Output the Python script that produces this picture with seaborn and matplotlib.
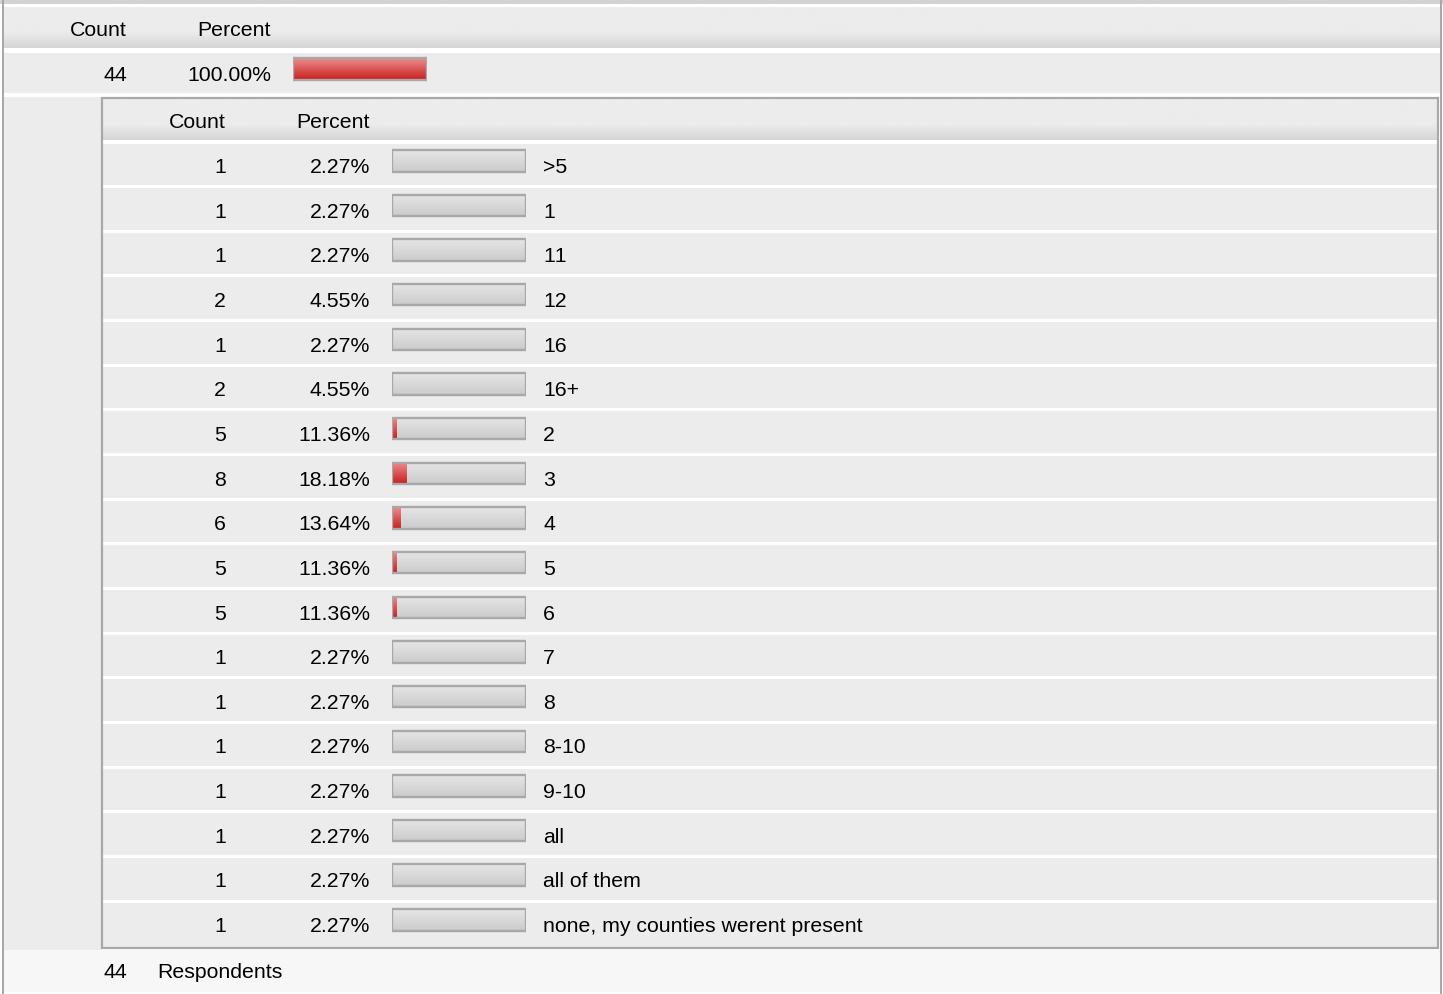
import numpy as np
import pandas as pd
import matplotlib
matplotlib.use("Agg")
import matplotlib.pyplot as plt
from matplotlib.patches import Rectangle
from matplotlib.colors import LinearSegmentedColormap
import seaborn as sns

# values
total_count = 44
total_percent = "100.00%"
total_fill = [1.0]

answers = [">5", "1", "11", "12", "16", "16+", "2", "3", "4", "5", "6", "7", "8",
           "8-10", "9-10", "all", "all of them", "none, my counties werent present"]
counts = [1, 1, 1, 2, 1, 2, 5, 8, 6, 5, 5, 1, 1, 1, 1, 1, 1, 1]
percents = [2.27, 2.27, 2.27, 4.55, 2.27, 4.55, 11.36, 18.18, 13.64, 11.36, 11.36,
            2.27, 2.27, 2.27, 2.27, 2.27, 2.27, 2.27]
# red part of each small bar, share of the bar as it is drawn in the picture
bar_fill = [0, 0, 0, 0, 0, 0, 0.037, 0.11, 0.06, 0.037, 0.037, 0, 0, 0, 0, 0, 0, 0]
respondents = 44

sns.set_style("white")
plt.rcParams["font.family"] = ["Liberation Sans", "DejaVu Sans"]
# no pair kerning, digits keep their even width as in the picture
plt.rcParams["text.kerning_factor"] = 12

W, H = 1443, 994
FS = 15.3
PITCH = 44.65
ROW0_TEXT = 165.6
ROW0_BAR = 160.8
EDGE = "#a8a8a8"

df = pd.DataFrame({"answer": answers, "count": counts, "percent": percents, "fill": bar_fill})
df["full"] = 1.0
top = pd.DataFrame({"answer": ["all"], "fill": total_fill, "full": [1.0]})

fig = plt.figure(figsize=(W / 100, H / 100), dpi=100)
ax = fig.add_axes([0, 0, 1, 1])
ax.set_xlim(0, W)
ax.set_ylim(H, 0)
ax.axis("off")

GRAD = np.linspace(0, 1, 64).reshape(-1, 1)


def band(x0, y0, x1, y1, stops):
    cmap = LinearSegmentedColormap.from_list("band", stops)
    ax.imshow(GRAD, cmap=cmap, aspect="auto", extent=[x0, x1, y1, y0],
              origin="upper", interpolation="bilinear", zorder=1)


def flat(x0, y0, x1, y1, color):
    ax.add_patch(Rectangle((x0, y0), x1 - x0, y1 - y0, facecolor=color, lw=0, zorder=1))


def put(x, yc, s, ha="right"):
    ax.text(x, yc + 7.4, s, ha=ha, va="baseline", fontsize=FS, color="#000000", zorder=5)


header_stops = [(0, "#ececec"), (0.6, "#ececec"), (1, "#d6d6d6")]

# background blocks
flat(0, 0, W, 4, "#d2d2d2")
band(4, 8, 1439.5, 48.3, header_stops)
flat(4, 52.7, 1439.5, 93.3, "#ececec")
flat(4, 97, 102, 950, "#ececec")
band(103, 99, 1436.5, 140, header_stops)
n = len(answers)
for i in range(n):
    y0 = 143.5 + i * PITCH
    y1 = y0 + PITCH - 3 if i < n - 1 else 947
    flat(103, y0, 1436.5, y1, "#ececec")
flat(4, 950, 1439.5, 992, "#f7f7f7")

# borders
ax.add_patch(Rectangle((1.5, 0), 2, H, facecolor=EDGE, lw=0, zorder=3))
ax.add_patch(Rectangle((1439.5, 0), 2.5, H, facecolor=EDGE, lw=0, zorder=3))
ax.add_patch(Rectangle((102, 98), 1335.5, 850, fill=False, edgecolor=EDGE, lw=1.6, zorder=3))

# texts
put(127, 29, "Count")
put(271, 29, "Percent")
put(127, 74, str(total_count))
put(271, 74, total_percent)
put(226, 120.7, "Count")
put(370, 120.7, "Percent")
for i, row in df.iterrows():
    yc = ROW0_TEXT + i * PITCH
    put(226, yc, str(row["count"]))
    put(370, yc, f"{row['percent']:.2f}%")
    put(543, yc, row["answer"], ha="left")
put(127, 971, str(respondents))
put(157, 971, "Respondents", ha="left")


def shade(bx, patches, c_top, c_bot):
    cmap = LinearSegmentedColormap.from_list("bar", [c_top, c_bot])
    for p in patches:
        w = p.get_width()
        if w <= 0:
            continue
        x0, y0, h = p.get_x(), p.get_y(), p.get_height()
        im = bx.imshow(GRAD, cmap=cmap, aspect="auto", extent=[x0, x0 + w, y0 + h, y0],
                       origin="upper", interpolation="bilinear", zorder=p.get_zorder() + 0.1)
        im.set_clip_path(p)


def bar_column(data, x_left, x_right, center0):
    nrow = len(data)
    y_top = center0 - PITCH / 2
    bx = fig.add_axes([x_left / W, 1 - (y_top + nrow * PITCH) / H,
                       (x_right - x_left) / W, nrow * PITCH / H])
    bx.set_facecolor("none")
    sns.barplot(data=data, x="full", y="answer", orient="h", color="#d6d6d6",
                width=0.48, linewidth=0, errorbar=None, ax=bx)
    shade(bx, list(bx.patches), "#e6e6e6", "#cbcbcb")
    k = len(bx.patches)
    sns.barplot(data=data, x="fill", y="answer", orient="h", color="#d43a3a",
                width=0.48, linewidth=0, errorbar=None, ax=bx)
    shade(bx, list(bx.patches)[k:], "#eb8c8c", "#c91f1f")
    k = len(bx.patches)
    sns.barplot(data=data, x="full", y="answer", orient="h", color="#aaaaaa",
                width=0.48, errorbar=None, ax=bx)
    for p in list(bx.patches)[k:]:
        p.set_facecolor("none")
        p.set_edgecolor(EDGE)
        p.set_linewidth(1.7)
        p.set_zorder(6)
    bx.set_xlim(0, 1)
    bx.set_ylim(nrow - 0.5, -0.5)
    bx.axis("off")
    return bx


bar_column(top, 293, 427, 68.8)
bar_column(df, 392, 526, ROW0_BAR)

fig.savefig("out.png", dpi=100)
